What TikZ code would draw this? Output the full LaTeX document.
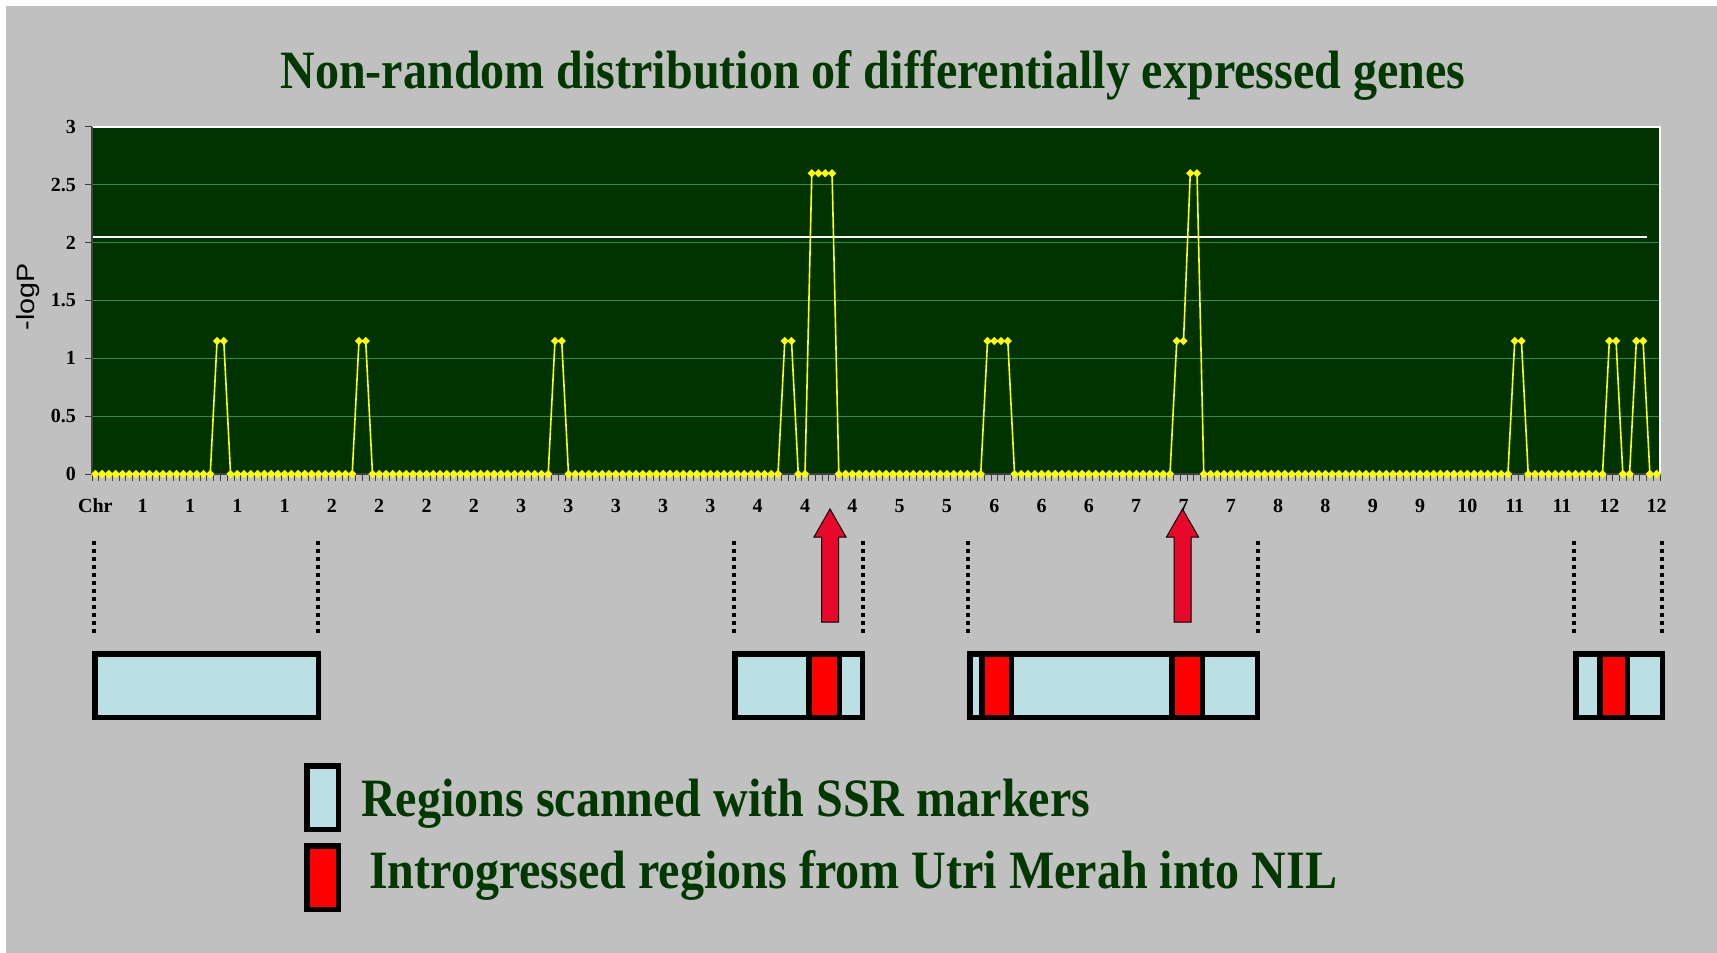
\documentclass[tikz,border=0pt]{standalone}
\usepackage{fontspec}
\setmainfont{Liberation Serif}
\newfontfamily\arialf{Liberation Sans}
\usetikzlibrary{shapes.geometric}
\definecolor{bgc}{HTML}{C0C0C0}
\definecolor{plotbg}{HTML}{003300}
\definecolor{gridc}{HTML}{2E8B57}
\definecolor{axisc}{HTML}{404040}
\definecolor{cyanbox}{HTML}{BAE0E3}
\definecolor{redbar}{HTML}{FF0000}
\definecolor{arrowred}{HTML}{E8082A}
\definecolor{txtgreen}{HTML}{003800}
\definecolor{mkyellow}{HTML}{FFFF00}
\begin{document}
\begin{tikzpicture}[x=1pt,y=-1pt,
  bigtext/.style={text=txtgreen, font=\bfseries\fontsize{54}{60}\selectfont, inner sep=0pt},
  ylab/.style={anchor=east, font=\bfseries\fontsize{20}{24}\selectfont, inner sep=0pt},
  xlab/.style={anchor=center, font=\bfseries\fontsize{20}{24}\selectfont, inner sep=0pt},
  mk/.style={diamond, fill=mkyellow, inner sep=0pt, minimum width=8.5pt, minimum height=8.5pt},
  dotl/.style={line width=3.5pt, dash pattern=on 3.5pt off 4.5pt},
  region/.style={fill=cyanbox, draw=black, line width=5.5pt},
  intro/.style={fill=redbar, draw=black, line width=5.5pt},
  uparrow/.style={fill=arrowred, draw=black, line width=1pt, line join=miter}]
\useasboundingbox (0,0) rectangle (1717,953);
\fill[white] (0,0) rectangle (1717,953);
\fill[bgc] (6,6) rectangle (1717,953);

% title
\node[bigtext, anchor=base] (title) at (873,88) {\scalebox{0.89}[1]{Non-random distribution of differentially expressed genes}};

% plot area
\fill[plotbg] (92,127) rectangle (1660,474);
\foreach \v in {0.5,1,1.5,2,2.5}
  \draw[gridc, line width=1.3pt] (92,{474-115.67*\v}) -- (1660,{474-115.67*\v});
\draw[white, line width=1.5pt] (92,127) -- (1660,127) -- (1660,474);
\draw[white, line width=2.2pt] (92,237) -- (1647,237);
\draw[axisc, line width=1.3pt] (92,127) -- (92,474) -- (1660,474);
\foreach \v in {0,0.5,1,1.5,2,2.5,3}
  \draw[axisc, line width=1pt] (85,{474-115.67*\v}) -- (92,{474-115.67*\v});
\foreach \k in {0,...,232}
  \draw[axisc, line width=0.8pt] ({92+6.7586*\k},474) -- ++(0,7);

% y labels
\foreach \v/\t in {0/0,0.5/0.5,1/1,1.5/1.5,2/2,2.5/2.5,3/3}
  \node[ylab] at (76,{474-115.67*\v}) {\t};
\node[rotate=90, font=\arialf\fontsize{25}{30}\selectfont, inner sep=0pt] (ylabel) at (28,297) {\scalebox{1.15}[1]{-logP}};

% x labels
\foreach \t [count=\j from 0] in {Chr,1,1,1,1,2,2,2,2,3,3,3,3,3,4,4,4,5,5,6,6,6,7,7,7,8,8,9,9,10,11,11,12,12}
  \node[xlab] at ({92+6.7586*(7*\j+0.5)},506) {\t};

% data
\begin{scope}[shift={(95.379,474)}, x=6.7586pt, y=115.67pt]
\draw[mkyellow, line width=1.6pt, line join=round]
  (0,0) -- (17,0) -- (18,1.15) -- (19,1.15) -- (20,0) -- (38,0) -- (39,1.15) -- (40,1.15) -- (41,0)
  -- (67,0) -- (68,1.15) -- (69,1.15) -- (70,0) -- (101,0) -- (102,1.15) -- (103,1.15) -- (104,0)
  -- (105,0) -- (106,2.6) -- (109,2.6) -- (110,0) -- (131,0) -- (132,1.15) -- (135,1.15) -- (136,0)
  -- (159,0) -- (160,1.15) -- (161,1.15) -- (162,2.6) -- (163,2.6) -- (164,0) -- (209,0)
  -- (210,1.15) -- (211,1.15) -- (212,0) -- (223,0) -- (224,1.15) -- (225,1.15) -- (226,0)
  -- (227,0) -- (228,1.15) -- (229,1.15) -- (230,0) -- (231,0);
\foreach \a/\b in {0/17,20/38,41/67,70/101,104/105,110/131,136/159,164/209,212/223,226/227,230/231}
  \foreach \i in {\a,...,\b} \node[mk] at (\i,0) {};
\foreach \i in {18,19,39,40,68,69,102,103,132,133,134,135,160,161,210,211,224,225,228,229}
  \node[mk] at (\i,1.15) {};
\foreach \i in {106,107,108,109,162,163}
  \node[mk] at (\i,2.6) {};
\end{scope}

% dotted guide lines
\foreach \dx in {94,318,734,863,968,1258,1574,1662}
  \draw[dotl] (\dx,541) -- (\dx,633);

% arrows
\foreach \ax in {830,1182.5}
  \filldraw[uparrow] (\ax,509) -- ++(16,28) -- ++(-7.5,0) -- ++(0,85) -- ++(-17,0) -- ++(0,-85) -- ++(-7.5,0) -- cycle;

% region boxes
\draw[region] (94.75,653.75) rectangle (318.25,717.25);
\draw[region] (734.75,653.75) rectangle (862.25,717.25);
\draw[region] (969.75,653.75) rectangle (1257.25,717.25);
\draw[region] (1575.75,653.75) rectangle (1662.25,717.25);
\draw[intro] (808.75,653.75) rectangle (839.25,717.25);
\draw[intro] (981.75,653.75) rectangle (1011.25,717.25);
\draw[intro] (1171.75,653.75) rectangle (1202.25,717.25);
\draw[intro] (1599.75,653.75) rectangle (1627.25,717.25);

% legend
\draw[region] (306.75,765.75) rectangle (338.25,829.25);
\draw[intro] (306.75,845.75) rectangle (338.25,909.25);
\node[bigtext, anchor=base west] (leg1) at (361,816) {\scalebox{0.89}[1]{Regions scanned with SSR markers}};
\node[bigtext, anchor=base west] (leg2) at (369,888) {\scalebox{0.89}[1]{Introgressed regions from Utri Merah into NIL}};
\end{tikzpicture}
\end{document}
